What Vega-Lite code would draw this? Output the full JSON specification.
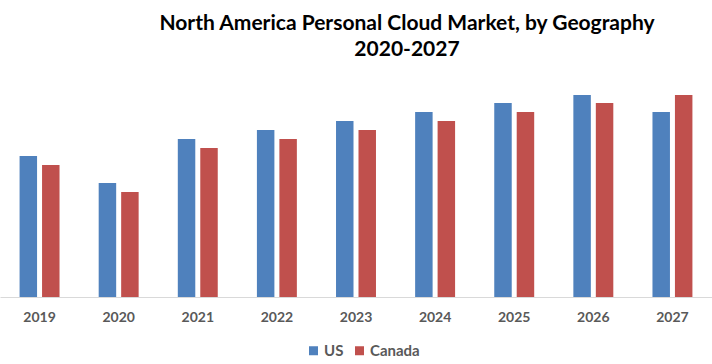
{
  "$schema": "https://vega.github.io/schema/vega-lite/v6.json",
  "width": 712,
  "height": 210,
  "autosize": {"type": "none"},
  "padding": {"left": 0, "top": 87, "right": 0, "bottom": 67},
  "background": "white",
  "title": {
    "text": ["North America Personal Cloud Market, by Geography", "2020-2027"],
    "font": "Lato",
    "fontSize": 21,
    "fontWeight": "bold",
    "color": "#000000",
    "lineHeight": 26,
    "anchor": "middle",
    "frame": "group",
    "dx": 51,
    "offset": 27
  },
  "data": {
    "values": [
      {"year": "2019", "country": "US", "value": 14.1},
      {"year": "2019", "country": "Canada", "value": 13.2},
      {"year": "2020", "country": "US", "value": 11.4},
      {"year": "2020", "country": "Canada", "value": 10.5},
      {"year": "2021", "country": "US", "value": 15.8},
      {"year": "2021", "country": "Canada", "value": 14.9},
      {"year": "2022", "country": "US", "value": 16.7},
      {"year": "2022", "country": "Canada", "value": 15.8},
      {"year": "2023", "country": "US", "value": 17.6},
      {"year": "2023", "country": "Canada", "value": 16.7},
      {"year": "2024", "country": "US", "value": 18.5},
      {"year": "2024", "country": "Canada", "value": 17.6},
      {"year": "2025", "country": "US", "value": 19.4},
      {"year": "2025", "country": "Canada", "value": 18.5},
      {"year": "2026", "country": "US", "value": 20.2},
      {"year": "2026", "country": "Canada", "value": 19.4},
      {"year": "2027", "country": "US", "value": 18.5},
      {"year": "2027", "country": "Canada", "value": 20.2}
    ]
  },
  "mark": {"type": "bar"},
  "encoding": {
    "x": {
      "field": "year",
      "type": "nominal",
      "scale": {"paddingInner": 0.495, "paddingOuter": 0.2475},
      "axis": {
        "title": null,
        "labelAngle": 0,
        "ticks": false,
        "domainColor": "#d9d9d9",
        "domainWidth": 1,
        "labelFont": "Lato",
        "labelFontSize": 14,
        "labelFontWeight": "bold",
        "labelColor": "#595959",
        "labelPadding": 13,
        "grid": false
      }
    },
    "xOffset": {
      "field": "country",
      "type": "nominal",
      "sort": ["US", "Canada"],
      "scale": {"paddingInner": 0.222, "paddingOuter": 0}
    },
    "y": {
      "field": "value",
      "type": "quantitative",
      "scale": {"domain": [0, 21], "nice": false},
      "axis": null
    },
    "color": {
      "field": "country",
      "type": "nominal",
      "sort": ["US", "Canada"],
      "scale": {"domain": ["US", "Canada"], "range": ["#4F81BD", "#C0504D"]},
      "legend": {
        "title": null,
        "orient": "none",
        "direction": "horizontal",
        "legendX": 306,
        "legendY": 256,
        "symbolType": "square",
        "symbolSize": 81,
        "symbolStrokeWidth": 0,
        "labelFont": "Lato",
        "labelFontSize": 15,
        "labelFontWeight": "bold",
        "labelColor": "#595959",
        "columnPadding": 8,
        "symbolOffset": 0,
        "labelOffset": 3
      }
    }
  },
  "config": {"view": {"stroke": null}}
}
